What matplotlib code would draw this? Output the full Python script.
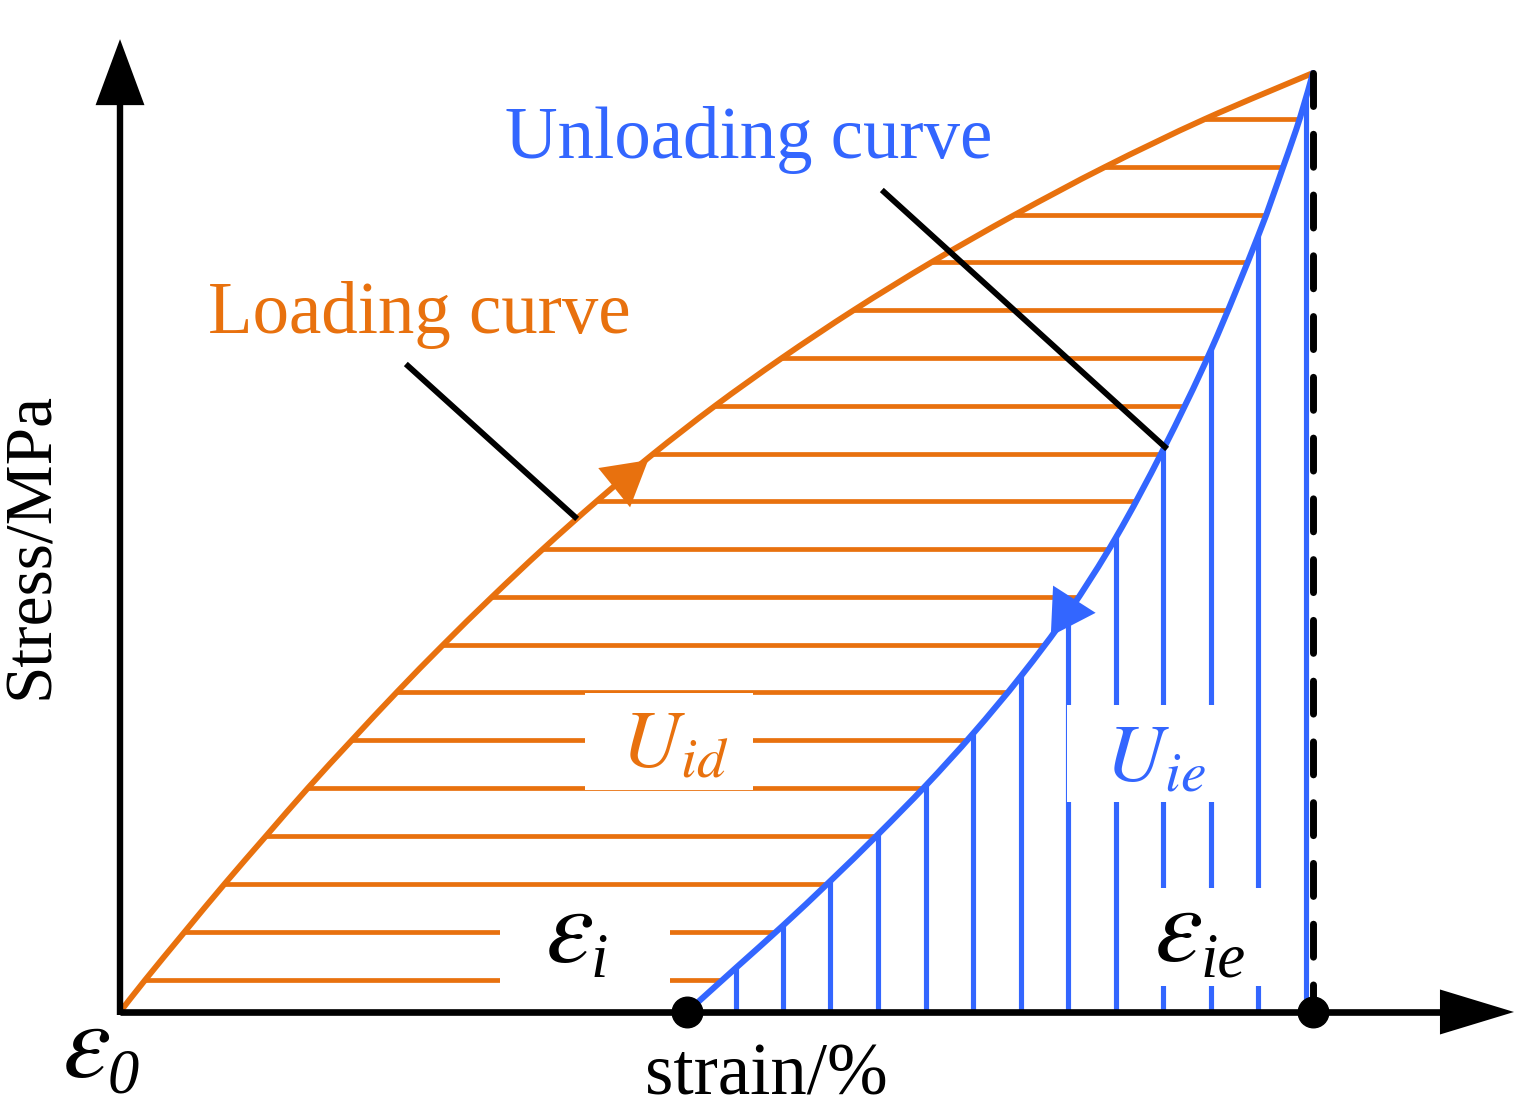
import numpy as np
import matplotlib
matplotlib.use('Agg')
import matplotlib.pyplot as plt
from matplotlib.patches import FancyArrowPatch, Rectangle, ArrowStyle, PathPatch
from matplotlib.path import Path

plt.rcParams['font.family'] = ['Liberation Serif', 'DejaVu Serif']
plt.rcParams['mathtext.fontset'] = 'stix'

# ---------------- data (schematic units) ----------------
load_strain = [0.0, 0.21, 0.541, 0.876, 1.224, 1.576, 1.945, 2.322, 2.707, 3.118,
               3.546, 3.998, 4.468, 4.987, 5.549, 6.153, 6.806, 7.498, 8.257, 9.095, 10.0]
load_stress = [0.0, 0.34, 0.852, 1.363, 1.874, 2.386, 2.897, 3.408, 3.908, 4.42,
               4.931, 5.442, 5.942, 6.454, 6.965, 7.476, 7.987, 8.488, 8.999, 9.51, 10.0]

unload_strain = [4.753, 5.163, 5.557, 5.951, 6.354, 6.756, 7.150, 7.552, 7.946, 8.349,
                 8.743, 9.145, 9.539, 9.749, 9.891, 10.0]
unload_stress = [0.0, 0.470, 0.920, 1.391, 1.891, 2.413, 2.964, 3.577, 4.248, 5.055,
                 5.986, 7.050, 8.261, 8.996, 9.521, 10.0]

hatch_stress = [0.34, 0.852, 1.363, 1.874, 2.386, 2.897, 3.408, 3.908, 4.42, 4.931,
                5.442, 5.942, 6.454, 6.965, 7.476, 7.987, 8.488, 8.999, 9.51]
hatch_strain = [5.163, 5.557, 5.951, 6.354, 6.756, 7.150, 7.552, 7.946, 8.349, 8.743,
                9.145, 9.539, 9.941]

peak_strain = 10.0
peak_stress = 10.0
residual_strain = 4.753

ORANGE = '#E8710E'
BLUE = '#3366FF'


def smooth_path(xs, ys):
    """Catmull-Rom spline through the points, as cubic Bezier path."""
    p = np.column_stack([xs, ys]).astype(float)
    ext = np.vstack([p[0], p, p[-1]])
    verts = [p[0]]
    codes = [Path.MOVETO]
    for i in range(len(p) - 1):
        p0, p1, p2, p3 = ext[i], ext[i + 1], ext[i + 2], ext[i + 3]
        verts += [p1 + (p2 - p0) / 6.0, p2 - (p3 - p1) / 6.0, p2]
        codes += [Path.CURVE4] * 3
    return Path(verts, codes)


fig = plt.figure(figsize=(15.27, 11.18), dpi=100)
ax = fig.add_axes([0, 0, 1, 1])
ax.set_xlim(-1.006, 11.794)
ax.set_ylim(-1.129, 10.777)
ax.axis('off')

ls = np.array(load_strain); lsig = np.array(load_stress)
us = np.array(unload_strain); usig = np.array(unload_stress)

# horizontal hatch (dissipated energy)
hs = np.array(hatch_stress)
xl = np.interp(hs, lsig, ls)
xr = np.interp(hs, usig, us)
ax.hlines(hs, xl, xr, color=ORANGE, lw=3.4, zorder=1)

# vertical hatch (elastic energy)
vx = np.array(hatch_strain)
vtop = np.interp(vx, us, usig)
ax.vlines(vx, 0, vtop, color=BLUE, lw=3.7, zorder=1)

# label masks
for (x0, x1, y0, y1) in [(3.898, 5.306, 2.364, 3.40),
                         (7.938, 9.388, 2.236, 3.269),
                         (8.508, 9.765, 0.277, 1.321),
                         (3.185, 4.610, 0.18, 1.19)]:
    ax.add_patch(Rectangle((x0, y0), x1 - x0, y1 - y0, fc='white', ec='none', zorder=2))

# curves
ax.add_patch(PathPatch(smooth_path(ls, lsig), fc='none', ec=ORANGE, lw=4.2,
                       capstyle='round', joinstyle='round', zorder=3))
ax.add_patch(PathPatch(smooth_path(us, usig), fc='none', ec=BLUE, lw=4.4,
                       capstyle='round', joinstyle='round', zorder=3))

# direction arrowheads
ax_o = 4.23
ax.plot([ax_o], [np.interp(ax_o, ls, lsig)], marker=(3, 0, -51), ms=42, color=ORANGE,
        mew=0, zorder=4)
ax_b = 7.93
ax.plot([ax_b], [np.interp(ax_b, us, usig) + 0.05], marker=(3, 0, -92.6), ms=42, color=BLUE,
        mew=0, zorder=4)

# dashed peak line
ax.plot([peak_strain, peak_strain], [peak_stress, 0], color='black', lw=5,
        linestyle=(0, (4.75, 4.0)), dash_capstyle='round', zorder=4)

# axes
ax.plot([0, 11.07], [0, 0], color='black', lw=4.8, solid_capstyle='butt', zorder=5)
ax.plot([0, 0], [-0.03, 9.66], color='black', lw=4.6, solid_capstyle='butt', zorder=5)
ax.add_patch(FancyArrowPatch((11.0, 0), (11.685, 0),
                             arrowstyle=ArrowStyle('-|>', head_length=53.3, head_width=16.2),
                             mutation_scale=1, lw=0, color='black', shrinkA=0, shrinkB=0, zorder=5))
ax.add_patch(FancyArrowPatch((0, 9.6), (0, 10.36),
                             arrowstyle=ArrowStyle('-|>', head_length=47.5, head_width=17.6),
                             mutation_scale=1, lw=0, color='black', shrinkA=0, shrinkB=0, zorder=5))

# points
ax.plot([residual_strain, peak_strain], [0, 0], 'o', ms=22, color='black', zorder=6)

# leader lines
ax.plot([2.414, 3.814], [6.880, 5.272], color='black', lw=4.2, zorder=4)
ax.plot([6.404, 8.759], [8.733, 6.017], color='black', lw=4.2, zorder=4)

# texts
ax.text(0.738, 7.231, 'Loading curve', color=ORANGE, fontsize=52.5, ha='left', va='baseline', zorder=7)
ax.text(3.227, 9.095, 'Unloading curve', color=BLUE, fontsize=52.5, ha='left', va='baseline', zorder=7)
ax.text(-0.74, 4.97, 'Stress/MPa', rotation=90, fontsize=48.5, ha='center', va='center', zorder=7)
ax.text(5.42, -0.88, 'strain/%', fontsize=52.5, ha='center', va='baseline', zorder=7)


def eps_label(x, y, sub):
    ax.text(x, y, r'$\varepsilon$', fontsize=78, ha='left', va='baseline', zorder=7)
    ax.annotate(sub, xy=(x, y), xytext=(33, -11), textcoords='offset points',
                fontsize=45, fontstyle='italic', family='Liberation Serif',
                ha='left', va='baseline', zorder=7)


eps_label(-0.49, -0.692, '0')
eps_label(3.56, 0.532, 'i')
eps_label(8.67, 0.543, 'ie')

ax.text(4.20, 2.598, r'$U_{id}$', fontsize=59, color=ORANGE, ha='left', va='baseline', zorder=7)
ax.text(8.26, 2.449, r'$U_{ie}$', fontsize=59, color=BLUE, ha='left', va='baseline', zorder=7)

fig.savefig('out.png', dpi=100)
